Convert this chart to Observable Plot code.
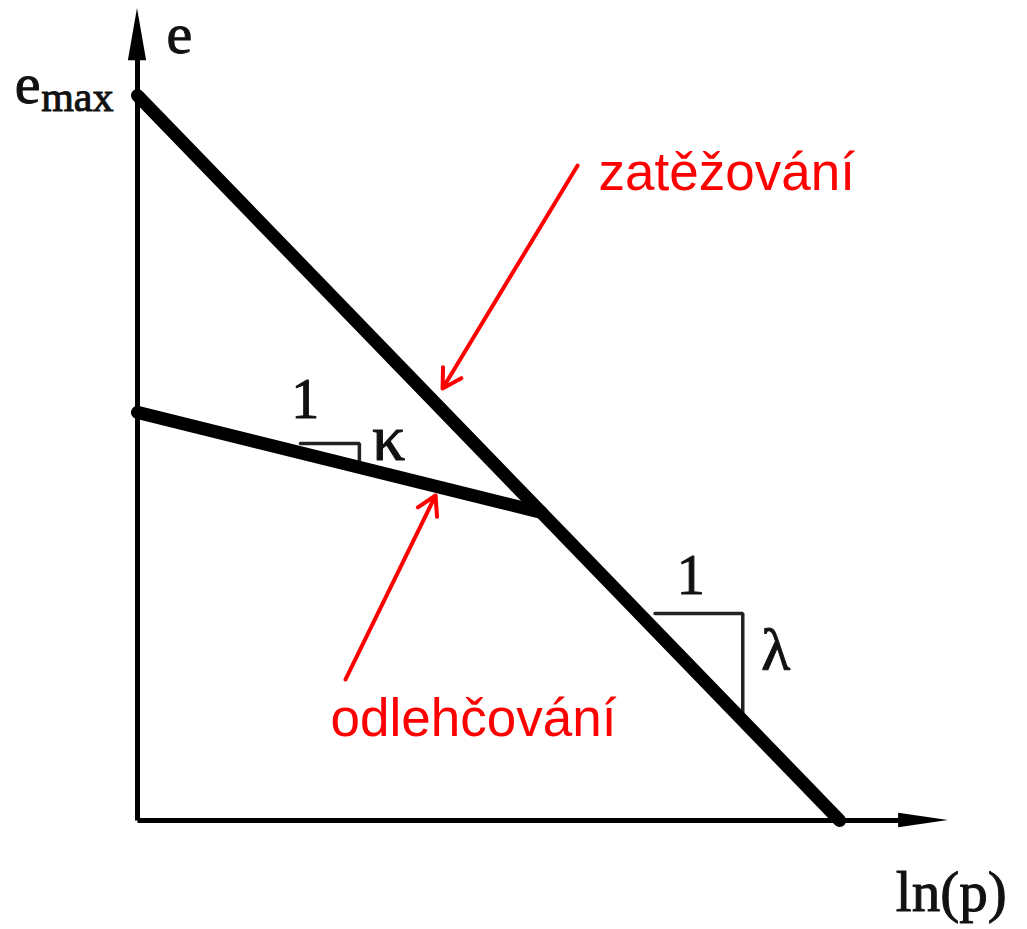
<!DOCTYPE html>
<html>
<head>
<meta charset="utf-8">
<script src="https://cdn.jsdelivr.net/npm/d3@7"></script>
<script src="https://cdn.jsdelivr.net/npm/@observablehq/plot@0.6"></script>
<style>
  html, body { margin: 0; padding: 0; background: #fff; }
  #chart svg { display: block; }
</style>
</head>
<body>
<div id="chart"></div>
<script>
// Schematic e – ln(p) diagram: virgin loading line (slope λ) and unloading line (slope κ).
// Values are in abstract units: ln(p) along x, void ratio e along y.

// Loading line (zatěžování): from e_max on the e axis down to the ln(p) axis
const loadLnP = [0, 10];
const loadE   = [10, 0];

// Unloading line (odlehčování): from the e axis to where it meets the loading line
const unloadLnP = [0, 5.75];
const unloadE   = [5.63, 4.25];

// Slope triangles
const kappaTriLnP  = [2.32, 3.16, 3.16];
const kappaTriE    = [5.2, 5.2, 4.9];
const lambdaTriLnP = [7.37, 8.62, 8.62];
const lambdaTriE   = [2.855, 2.855, 1.45];

// Axes extents
const lnPMax = 11.55;
const eMax   = 11.2;

// Red pointer arrows: [lnP1, e1, lnP2, e2]
const pointerLoad   = [6.268, 9.034, 4.345, 5.959];
const pointerUnload = [2.963, 1.945, 4.245, 4.483];

// Annotation texts
const serifLabels = [
  {text: "1",     x: 2.39,  y: 5.545, size: 56, anchor: "middle"},
  {text: "κ",     x: 3.575, y: 4.966, size: 66, anchor: "middle"},
  {text: "1",     x: 7.88,  y: 3.131, size: 56, anchor: "middle"},
  {text: "λ",     x: 9.09,  y: 2.069, size: 60, anchor: "middle"},
  {text: "e",     x: 0.598, y: 10.59, size: 58, anchor: "middle"},
  {text: "e",     x: -1.382, y: 9.903, size: 58, anchor: "end"},
  {text: "max",   x: -0.342, y: 9.793, size: 42, anchor: "end"},
  {text: "ln(p)", x: 10.80, y: -1.25, size: 57, anchor: "start"}
];
const redLabels = [
  {text: "zatěžování",  x: 6.567, y: 8.69},
  {text: "odlehčování", x: 2.749, y: 1.172}
];

const pts = (xs, ys) => xs.map((x, i) => ({x, y: ys[i]}));

const chart = Plot.plot({
  width: 1027,
  height: 929,
  x: {domain: [0, lnPMax], range: [137, 948], axis: null},
  y: {domain: [0, eMax], range: [820, 8], axis: null},
  marks: [
    // axes
    Plot.line(pts([0, 0], [0, eMax - 0.3]), {x: "x", y: "y", stroke: "#000", strokeWidth: 5, strokeLinecap: "butt"}),
    Plot.line(pts([0, lnPMax - 0.3], [0, 0]), {x: "x", y: "y", stroke: "#000", strokeWidth: 5, strokeLinecap: "butt"}),
    // axis arrowheads
    Plot.areaX([{y: 10.48, x1: -0.13, x2: 0.13}, {y: eMax, x1: 0, x2: 0}],
      {y: "y", x1: "x1", x2: "x2", fill: "#000"}),
    Plot.areaY([{x: 10.84, y1: -0.1, y2: 0.1}, {x: lnPMax, y1: 0, y2: 0}],
      {x: "x", y1: "y1", y2: "y2", fill: "#000"}),
    // slope triangles
    Plot.line(pts(kappaTriLnP, kappaTriE), {x: "x", y: "y", stroke: "#222", strokeWidth: 3.5, strokeLinejoin: "miter"}),
    Plot.line(pts(lambdaTriLnP, lambdaTriE), {x: "x", y: "y", stroke: "#222", strokeWidth: 3.5, strokeLinejoin: "miter"}),
    // loading and unloading lines
    Plot.line(pts(unloadLnP, unloadE), {x: "x", y: "y", stroke: "#000", strokeWidth: 13}),
    Plot.line(pts(loadLnP, loadE), {x: "x", y: "y", stroke: "#000", strokeWidth: 13}),
    // serif labels
    ...serifLabels.map(d => Plot.text([d], {
      x: "x", y: "y", text: "text", fontSize: d.size, textAnchor: d.anchor,
      lineAnchor: "bottom", fontFamily: "Liberation Serif", fill: "#111",
      stroke: "#111", strokeWidth: 1
    })),
    // red pointer arrows
    Plot.arrow([pointerLoad, pointerUnload], {
      x1: d => d[0], y1: d => d[1], x2: d => d[2], y2: d => d[3],
      stroke: "#ff0000", strokeWidth: 4, headLength: 8, headAngle: 60
    }),
    // red labels
    Plot.text(redLabels, {
      x: "x", y: "y", text: "text", fontSize: 53, textAnchor: "start",
      lineAnchor: "bottom", fontFamily: "Liberation Sans", fill: "#ff0000"
    })
  ]
});

document.getElementById("chart").appendChild(chart);
</script>
</body>
</html>
